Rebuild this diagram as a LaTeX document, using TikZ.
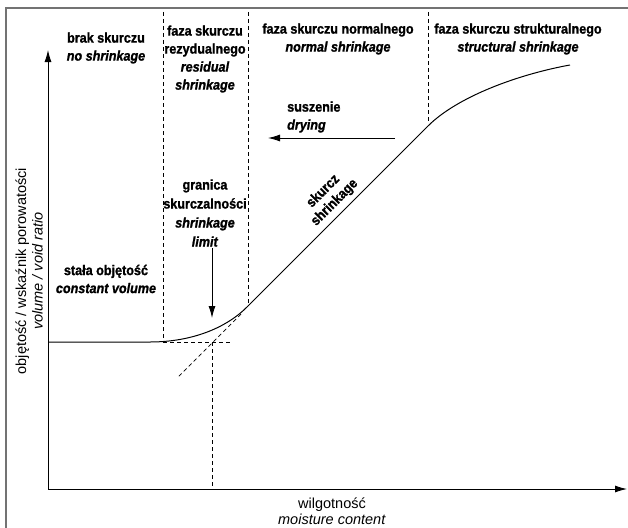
\documentclass[tikz,border=0pt]{standalone}
\usepackage{fontspec}
\setmainfont{Liberation Sans}
\newfontfamily\condfont[FakeStretch=0.9, BoldFeatures={FakeBold=1.2}, BoldItalicFeatures={FakeBold=1.2}]{Liberation Sans}
\usetikzlibrary{arrows.meta}
\begin{document}
\begin{tikzpicture}[x=1pt,y=-1pt,
  lbl/.style={font=\condfont\fontsize{14}{18}\selectfont\bfseries, align=center, inner sep=0pt},
  axlbl/.style={font=\fontsize{14.5}{16.5}\selectfont, align=center, inner sep=0pt},
  frameline/.style={draw=black!55, line width=1.3pt},
  axis/.style={draw=black, line width=0.9pt, -{Latex[length=12pt,width=7pt]}},
  curve/.style={draw=black, line width=1pt},
  guide/.style={draw=black, line width=0.7pt, dash pattern=on 4pt off 3pt},
  pointer/.style={draw=black, line width=0.9pt, -{Latex[length=12pt,width=7pt]}}
]
\useasboundingbox (0,0) rectangle (628,527);
\fill[white] (0,0) rectangle (628,527);
% frame
\coordinate (fb) at (6,528);
\coordinate (ftl) at (6,8);
\coordinate (fr) at (629,8);
\draw[frameline] (fb) -- (ftl) -- (fr);
% axes
\coordinate (O) at (48,489);
\coordinate (ytip) at (48,50);
\coordinate (xtip) at (627,489);
\draw[axis] (O) -- (ytip);
\draw[axis] (O) -- (xtip);
% guides
\coordinate (d1t) at (163,12); \coordinate (d1b) at (163,340);
\coordinate (d2t) at (248,12); \coordinate (d2b) at (248,304);
\coordinate (d3t) at (428,12); \coordinate (d3b) at (428,121);
\draw[guide] (d1t) -- (d1b);
\draw[guide] (d2t) -- (d2b);
\draw[guide] (d3t) -- (d3b);
\coordinate (hs) at (163,342); \coordinate (he) at (230,342);
\draw[guide] (hs) -- (he);
\coordinate (ds) at (241,314); \coordinate (de) at (177,378);
\draw[guide] (ds) -- (de);
\coordinate (vs) at (212,342); \coordinate (ve) at (212,489);
\draw[guide] (vs) -- (ve);
% curve
\coordinate (c0) at (48,342);
\coordinate (c1) at (150,342);
\coordinate (c2) at (247,307);
\coordinate (c3) at (428,126);
\coordinate (c4) at (570,65);
\draw[curve] (c0) -- (c1) .. controls (190,342) and (225,329) .. (c2) -- (c3)
  .. controls (458,96) and (520,74) .. (c4);
% labels
\node[lbl] (brak) at (106,48) {brak skurczu\\\textit{no shrinkage}};
\node[lbl] (rez) at (205,59) {faza skurczu\\rezydualnego\\\textit{residual}\\\textit{shrinkage}};
\node[lbl] (norm) at (338,39) {faza skurczu normalnego\\\textit{normal shrinkage}};
\node[lbl] (strukt) at (518,39) {faza skurczu strukturalnego\\\textit{structural shrinkage}};
\node[lbl, align=left, anchor=west] (sus) at (287,117) {suszenie\\\textit{drying}};
\node[lbl, font=\condfont\fontsize{14}{19}\selectfont\bfseries] (gran) at (205,213) {granica\\skurczalności\\\textit{shrinkage}\\\textit{limit}};
\node[lbl] (stala) at (106,279) {stała objętość\\\textit{constant volume}};
\node[lbl, rotate=45, font=\condfont\fontsize{14}{16}\selectfont\bfseries] (skurcz) at (329,197) {skurcz\\shrinkage};
\node[axlbl, rotate=90] (ylab) at (29,271) {objętość / wskaźnik porowatości\\\textit{volume / void ratio}};
\node[axlbl] (xlab) at (332,511) {wilgotność\\\textit{moisture content}};
% arrows
\coordinate (drs) at (395,138); \coordinate (dre) at (268,138);
\draw[pointer] (drs) -- (dre);
\coordinate (sls) at (212,248); \coordinate (sle) at (212,318);
\draw[pointer] (sls) -- (sle);
\end{tikzpicture}
\end{document}
